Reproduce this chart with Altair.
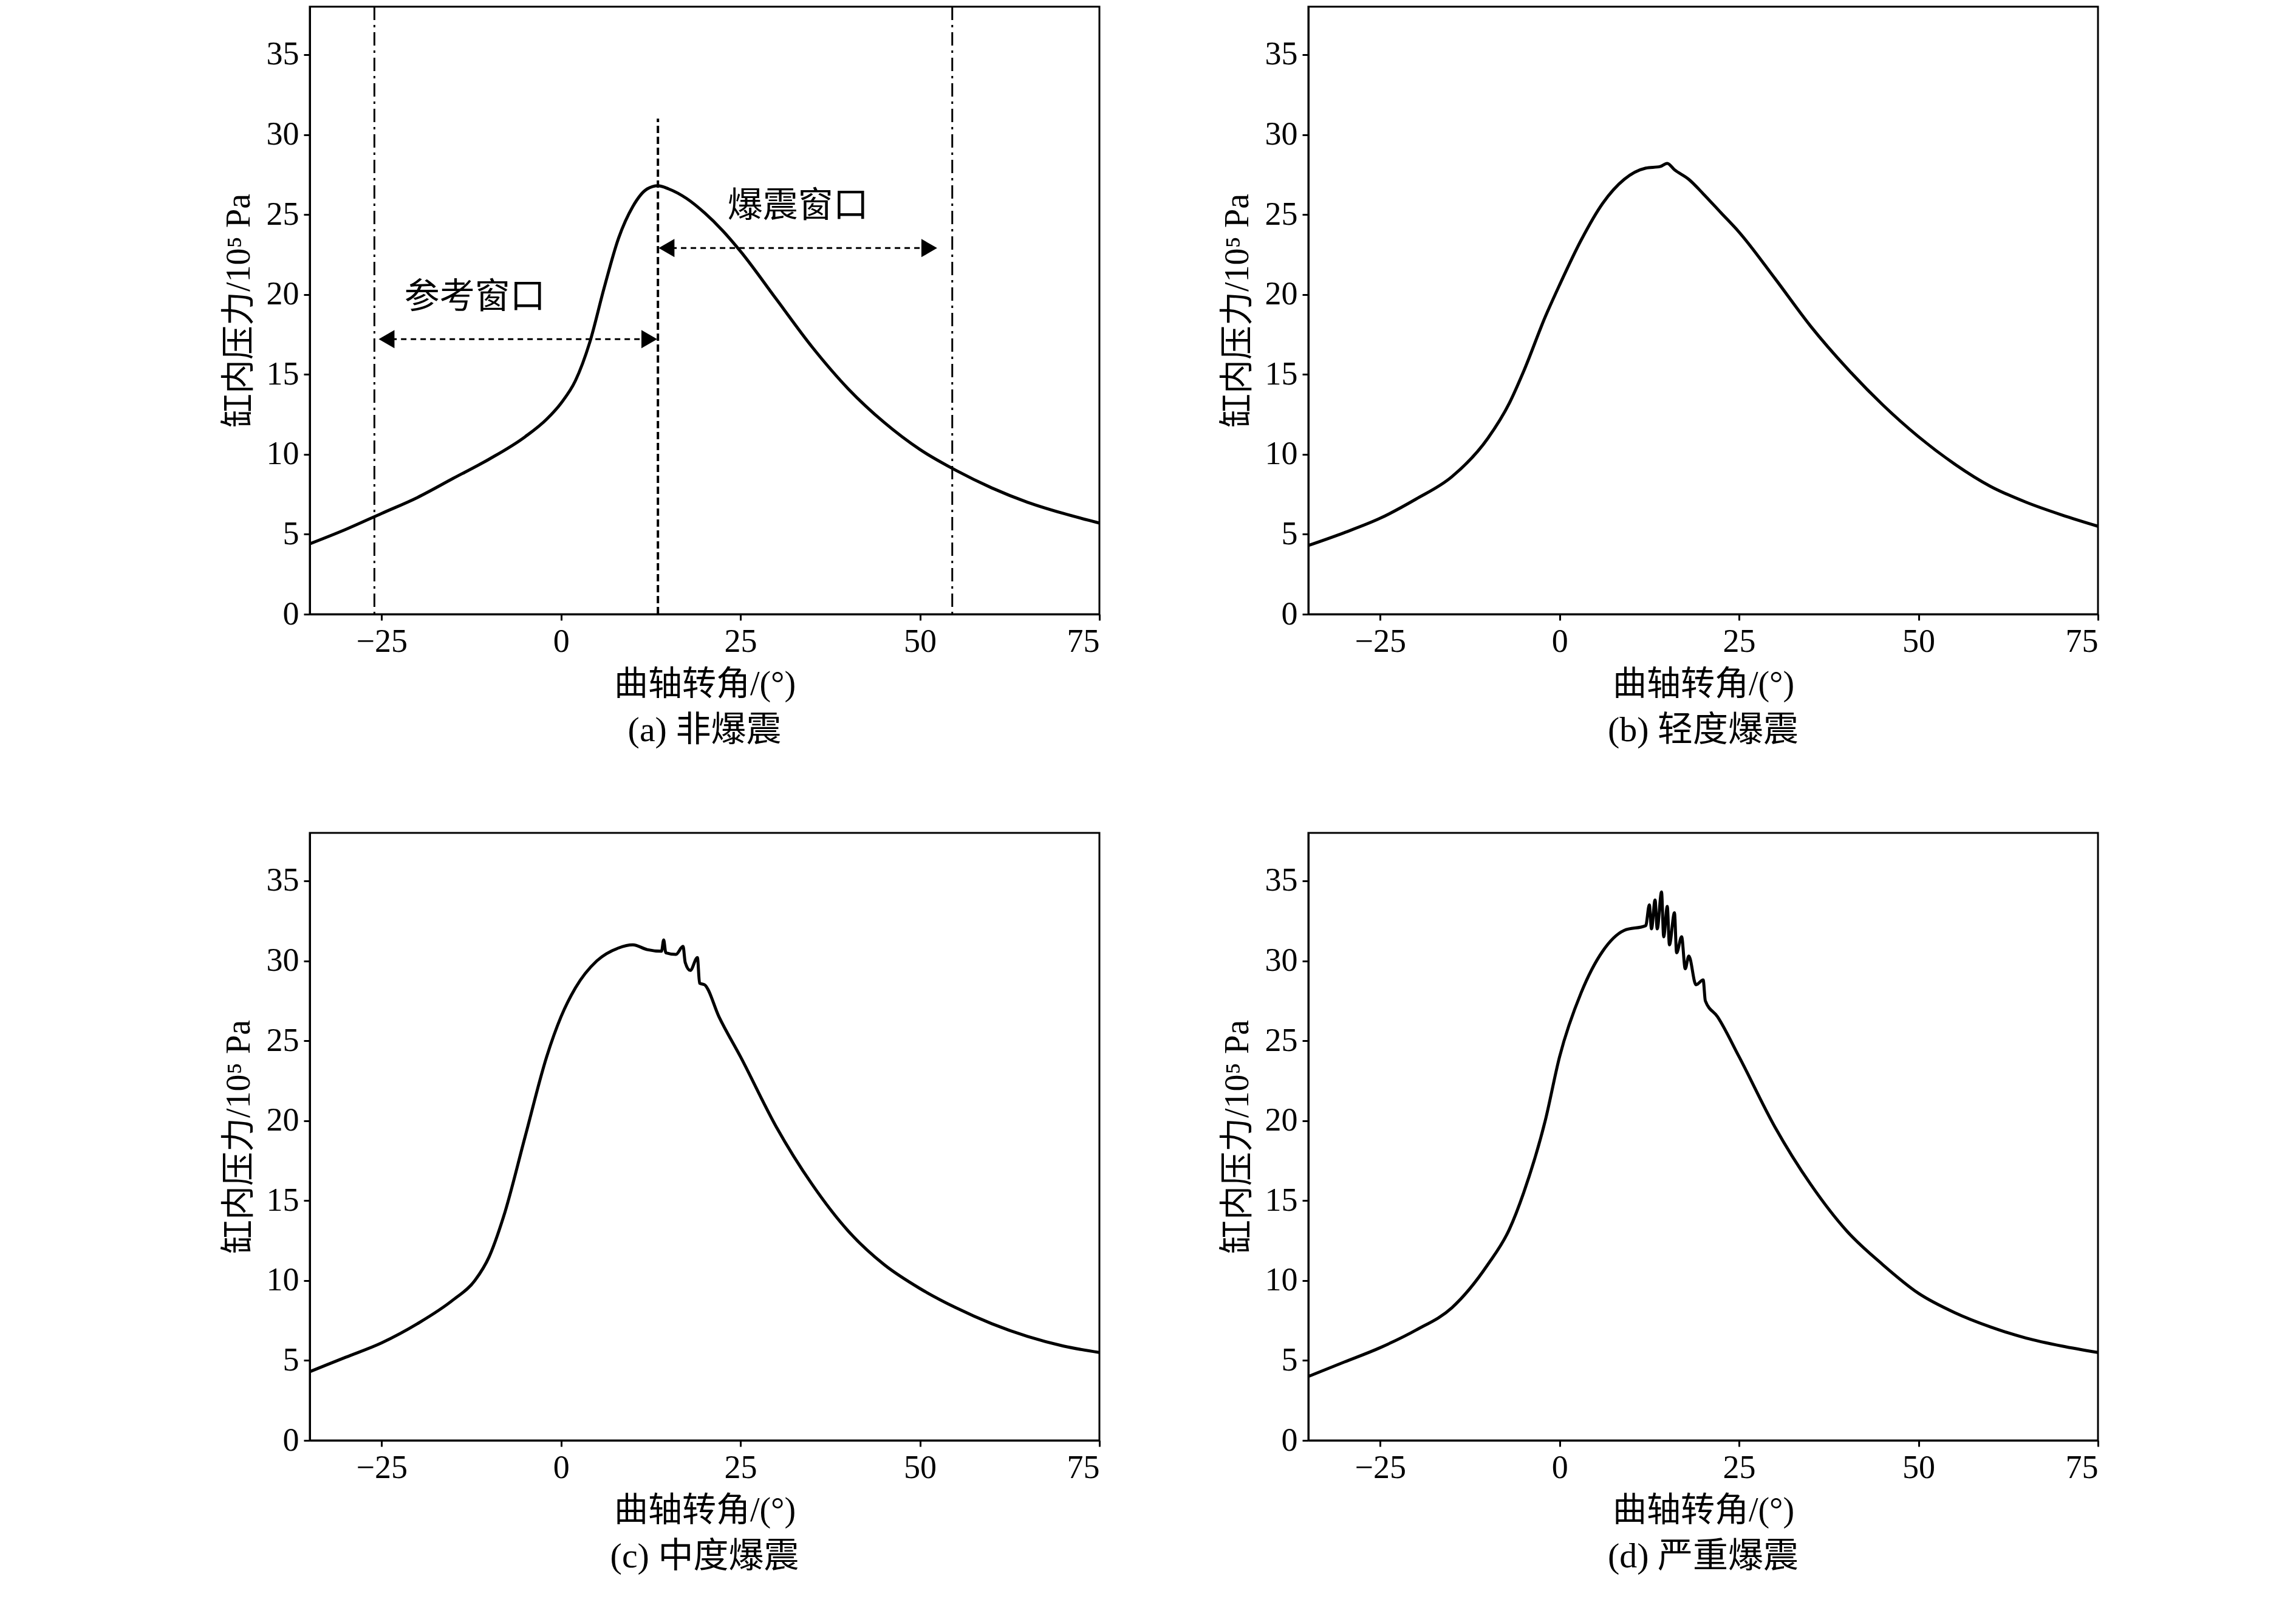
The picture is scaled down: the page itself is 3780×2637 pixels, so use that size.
import altair as alt
import pandas as pd

# crank angle (deg) / pressure (1e5 Pa)
xa = [-35, -30, -25, -20, -15, -10, -5, -2, 0, 2, 4, 6, 8, 10, 12, 13.5, 15, 17.5, 20, 22.5, 25, 30, 35, 40, 45, 50, 55, 60, 65, 70, 75]
ya = [4.4, 5.3, 6.3, 7.3, 8.5, 9.7, 11.1, 12.2, 13.2, 14.6, 17.0, 20.4, 23.5, 25.5, 26.6, 26.8, 26.6, 26.0, 25.1, 24.0, 22.7, 19.7, 16.7, 14.1, 12.0, 10.3, 9.0, 7.9, 7.0, 6.3, 5.7]

xb = [-35, -30, -25, -20, -15, -10, -7, -5, -2, 0, 3, 6, 9, 12, 14, 15, 16, 18, 20, 22.5, 25, 30, 35, 40, 45, 50, 55, 60, 65, 70, 75]
yb = [4.3, 5.1, 6.0, 7.2, 8.6, 11.0, 13.2, 15.2, 18.6, 20.6, 23.4, 25.7, 27.2, 27.9, 28.0, 28.2, 27.8, 27.2, 26.3, 25.1, 23.9, 21.0, 18.0, 15.4, 13.1, 11.1, 9.4, 8.0, 7.0, 6.2, 5.5]

xc = [-35, -30, -25, -20, -15, -12, -10, -8, -5, -2, 0, 2, 5, 8, 10, 12, 14, 14.3, 14.6, 16, 17, 17.3, 18, 19, 19.3, 20, 22, 25, 30, 35, 40, 45, 50, 55, 60, 65, 70, 75]
yc = [4.3, 5.2, 6.1, 7.3, 8.8, 10.0, 11.5, 14.0, 19.0, 24.0, 26.5, 28.3, 30.0, 30.8, 31.0, 30.7, 30.6, 31.3, 30.5, 30.4, 30.9, 29.9, 29.4, 30.2, 28.6, 28.5, 26.5, 24.0, 19.6, 16.0, 13.1, 11.0, 9.5, 8.3, 7.3, 6.5, 5.9, 5.5]

xd = [-35, -30, -25, -20, -15, -10, -7, -5, -2, 0, 3, 6, 9, 12, 12.5, 12.8, 13.3, 13.6, 14.2, 14.5, 15, 15.3, 16, 16.3, 17, 17.5, 18, 19, 20, 20.3, 22, 25, 30, 35, 40, 45, 50, 55, 60, 65, 70, 75]
yd = [4.0, 4.9, 5.8, 6.9, 8.3, 11.0, 13.2, 15.5, 20.0, 24.0, 28.0, 30.6, 31.9, 32.2, 33.5, 32.0, 33.8, 32.0, 34.3, 31.5, 33.4, 31.0, 33.0, 30.5, 31.5, 29.5, 30.3, 28.5, 28.8, 27.5, 26.5, 24.0, 19.6, 16.0, 13.1, 11.0, 9.2, 8.0, 7.1, 6.4, 5.9, 5.5]

captions = ["(a) 非爆震", "(b) 轻度爆震", "(c) 中度爆震", "(d) 严重爆震"]

FONT = "Liberation Serif, Times New Roman, Noto Sans CJK SC"
W, H = 1300, 1000
XDOM, YDOM = [-35, 75], [0, 38]


def panel(xs, ys, caption, extra=None):
    df = pd.DataFrame({"x": xs, "y": ys})
    line = alt.Chart(df).mark_line(color="black", strokeWidth=5, interpolate="monotone").encode(
        x=alt.X("x:Q", scale=alt.Scale(domain=XDOM, nice=False), title="曲轴转角/(°)",
                axis=alt.Axis(values=[-25, 0, 25, 50, 75], grid=False)),
        y=alt.Y("y:Q", scale=alt.Scale(domain=YDOM, nice=False), title="缸内压力/10⁵ Pa",
                axis=alt.Axis(values=[0, 5, 10, 15, 20, 25, 30, 35], grid=False)),
    )
    layers = [line] + (extra or [])
    return alt.layer(*layers).properties(
        width=W, height=H,
        title=alt.TitleParams(caption, orient="bottom", fontSize=58, font=FONT,
                              fontWeight="normal", offset=20),
    )


# annotations for panel (a)
vl_x = [-26, 54.5]
peak_x = [13.5]
arrows = pd.DataFrame({
    "x1": [-25, 14], "x2": [13, 52], "y": [17.2, 22.9],
})
heads = pd.DataFrame({
    "x": [-24.3, 12.3, 14.7, 51.3], "y": [17.2, 17.2, 22.9, 22.9],
    "s": ["triangle-left", "triangle-right", "triangle-left", "triangle-right"],
})
labels = pd.DataFrame({"x": [-12, 33], "y": [19.8, 25.5], "t": ["参考窗口", "爆震窗口"]})

dashdot = alt.Chart(pd.DataFrame({"x": vl_x})).mark_rule(
    color="black", strokeWidth=3, strokeDash=[22, 8, 4, 8]).encode(x="x:Q")
peak = alt.Chart(pd.DataFrame({"x": peak_x, "y": [0], "y2": [31]})).mark_rule(
    color="black", strokeWidth=4, strokeDash=[12, 6]).encode(x="x:Q", y="y:Q", y2="y2:Q")
arr = alt.Chart(arrows).mark_rule(color="black", strokeWidth=3, strokeDash=[9, 7]).encode(
    x="x1:Q", x2="x2:Q", y="y:Q")
hd = alt.Chart(heads).mark_point(color="black", filled=True, size=900, opacity=1).encode(
    x="x:Q", y="y:Q",
    shape=alt.Shape("s:N", scale=alt.Scale(domain=["triangle-left", "triangle-right"],
                                           range=["triangle-left", "triangle-right"]), legend=None))
txt = alt.Chart(labels).mark_text(font=FONT, fontSize=58, color="black").encode(
    x="x:Q", y="y:Q", text="t:N")

a = panel(xa, ya, captions[0], [dashdot, peak, arr, hd, txt])
b = panel(xb, yb, captions[1])
c = panel(xc, yc, captions[2])
d = panel(xd, yd, captions[3])

chart = alt.vconcat(
    alt.hconcat(a, b, spacing=185),
    alt.hconcat(c, d, spacing=185),
    spacing=135,
).configure_view(stroke="black", strokeWidth=3).configure_axis(
    labelFont=FONT, titleFont=FONT, labelFontSize=54, titleFontSize=56,
    titleFontWeight="normal", labelColor="black", titleColor="black",
    domainColor="black", tickColor="black", tickSize=10, tickWidth=3, domainWidth=3,
    labelPadding=8, titlePadding=16,
).properties(padding={"left": 355, "top": 0, "right": 20, "bottom": 10})

chart.save("out.html", embed_options={"renderer": "svg", "actions": False})
